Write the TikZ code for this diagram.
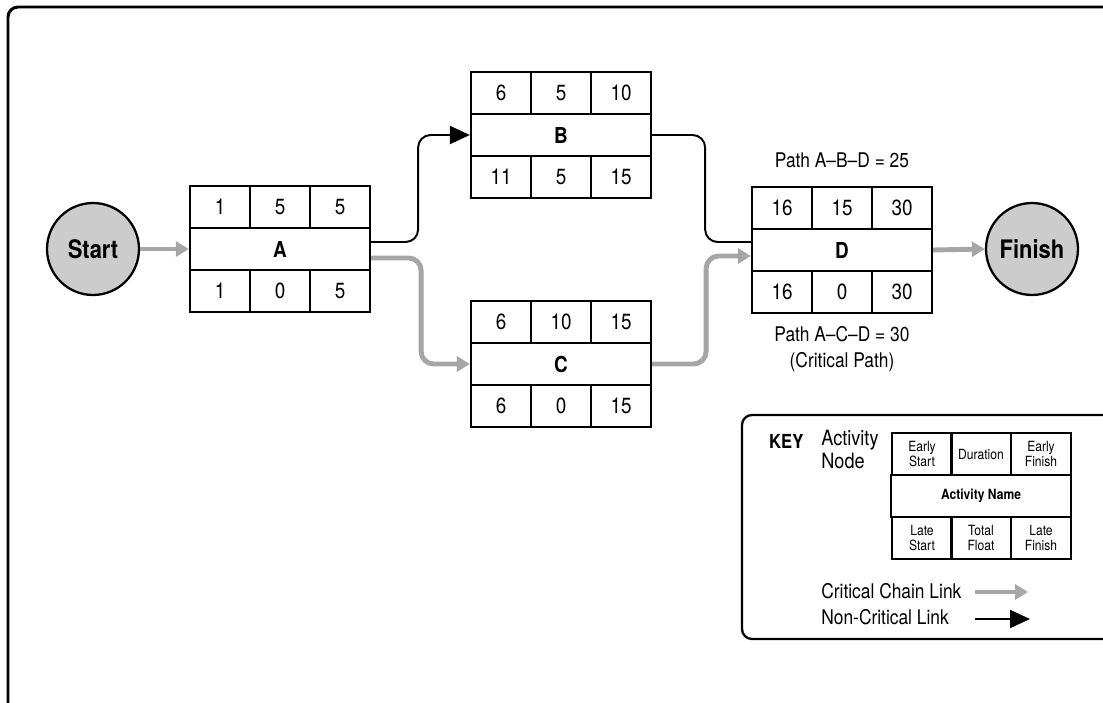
\documentclass[tikz,border=0pt]{standalone}
\usepackage{fontspec}
\setmainfont{TeX Gyre Heros}[FakeStretch=0.86]
\usetikzlibrary{arrows.meta}

\tikzset{
  cell/.style={draw,line width=1.3pt,minimum width=1.2cm,minimum height=0.84cm,inner sep=0pt,font=\fontsize{12.5}{14}\selectfont},
  namecell/.style={cell,minimum width=3.6cm,font=\fontsize{12.5}{14}\selectfont\bfseries},
  keycell/.style={cell,align=center,font=\fontsize{8}{8.6}\selectfont},
  event/.style={circle,draw,line width=1.3pt,fill=black!20,minimum size=1.84cm,inner sep=0pt,font=\fontsize{14.5}{16}\selectfont\bfseries},
  clink/.style={draw=black!35,line width=2.8pt,rounded corners=0.25cm,-{Triangle[length=0.26cm,width=0.3cm]}},
  nclink/.style={line width=1.1pt,rounded corners=0.25cm,-{Triangle[length=0.4cm,width=0.36cm]}},
  txt/.style={font=\fontsize{11.5}{14.7}\selectfont}
}

\begin{document}
\begin{tikzpicture}[x=0.02cm,y=-0.02cm]
\useasboundingbox (0,0) rectangle (1103,703);
% frame
\draw[line width=1.7pt,rounded corners=0.2cm] (1120,7) -- (8,7) -- (8,720);

% start and finish
\node[event] (Start) at (93,249) {Start};
\node[event] (Finish) at (1032,249) {Finish};

% activity A
\node[cell] (A-es) at (220,207) {1};
\node[cell] (A-du) at (280,207) {5};
\node[cell] (A-ef) at (340,207) {5};
\node[namecell] (A) at (280,249) {A};
\node[cell] (A-ls) at (220,291) {1};
\node[cell] (A-tf) at (280,291) {0};
\node[cell] (A-lf) at (340,291) {5};

% activity B
\node[cell] (B-es) at (501,93) {6};
\node[cell] (B-du) at (561,93) {5};
\node[cell] (B-ef) at (621,93) {10};
\node[namecell] (B) at (561,135) {B};
\node[cell] (B-ls) at (501,177) {11};
\node[cell] (B-tf) at (561,177) {5};
\node[cell] (B-lf) at (621,177) {15};

% activity C
\node[cell] (C-es) at (501,322) {6};
\node[cell] (C-du) at (561,322) {10};
\node[cell] (C-ef) at (621,322) {15};
\node[namecell] (C) at (561,364) {C};
\node[cell] (C-ls) at (501,406) {6};
\node[cell] (C-tf) at (561,406) {0};
\node[cell] (C-lf) at (621,406) {15};

% activity D
\node[cell] (D-es) at (782,208) {16};
\node[cell] (D-du) at (842,208) {15};
\node[cell] (D-ef) at (902,208) {30};
\node[namecell] (D) at (842,250) {D};
\node[cell] (D-ls) at (782,292) {16};
\node[cell] (D-tf) at (842,292) {0};
\node[cell] (D-lf) at (902,292) {30};

\node[txt] (pabd) at (842,160) {Path A--B--D = 25};
\node[txt,align=center] (pacd) at (842,349) {Path A--C--D = 30\\(Critical Path)};

% links
\draw[clink] (Start.east) -- (A.west);
\draw[nclink] ([yshift=0.14cm]A.east) -- ++(47,0) |- (B.west);
\draw[clink] ([yshift=-0.18cm]A.east) -- ++(50,0) |- (C.west);
\draw[nclink,-] (B.east) -- ++(53,0) |- ([yshift=0.16cm]D.west);
\draw[clink] (C.east) -- ++(54,0) |- ([yshift=-0.12cm]D.west);
\draw[clink] (D.east) -- (Finish.west);

% key
\draw[line width=1.3pt,rounded corners=0.2cm] (1120,415) -- (742,415) -- (742,639) -- (1120,639);
\node[anchor=west,font=\fontsize{11}{12}\selectfont\bfseries] (key) at (763,441) {KEY};
\node[anchor=north west,align=left,inner sep=0pt,font=\fontsize{12}{13}\selectfont] (knode) at (821,430) {Activity\\Node};
\node[keycell] (K-es) at (922,454) {Early\\Start};
\node[keycell] (K-du) at (981,454) {Duration};
\node[keycell] (K-ef) at (1041,454) {Early\\Finish};
\node[namecell,font=\fontsize{8}{9}\selectfont\bfseries] (K) at (981,496) {Activity Name};
\node[keycell] (K-ls) at (922,538) {Late\\Start};
\node[keycell] (K-tf) at (981,538) {Total\\Float};
\node[keycell] (K-lf) at (1041,538) {Late\\Finish};

\node[anchor=west,inner sep=0pt,font=\fontsize{11.5}{12}\selectfont] (kcl) at (821,591) {Critical Chain Link};
\node[anchor=west,inner sep=0pt,font=\fontsize{11.5}{12}\selectfont] (kncl) at (821,617) {Non-Critical Link};
\coordinate (cl1) at (975,592);
\coordinate (cl2) at (1028,592);
\coordinate (ncl1) at (975,619);
\coordinate (ncl2) at (1030,619);
\draw[clink] (cl1) -- (cl2);
\draw[nclink] (ncl1) -- (ncl2);
\end{tikzpicture}
\end{document}
